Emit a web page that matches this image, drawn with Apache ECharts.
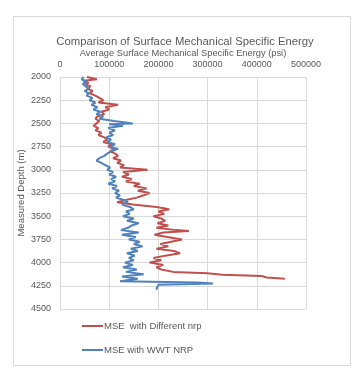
<!DOCTYPE html>
<html><head><meta charset="utf-8">
<script src="https://cdn.jsdelivr.net/npm/echarts@6/dist/echarts.min.js"></script>
<style>html,body{margin:0;padding:0;background:#fff}#c{width:362px;height:375px}</style>
</head><body><div id="c"></div>
<script>
const title = "Comparison of Surface Mechanical Specific Energy";
const xName = "Average Surface Mechanical Specific Energy (psi)";
const yName = "Measured Depth (m)";
const seriesNames = ["MSE  with Different nrp", "MSE with WWT NRP"];

const redDepth = [2000,2025,2040,2060,2080,2100,2125,2150,2175,2200,2225,2250,2275,2300,2325,2350,2375,2400,2425,2450,2475,2500,2525,2550,2575,2600,2625,2650,2675,2700,2725,2750,2775,2800,2825,2850,2875,2900,2925,2950,2975,3000,3025,3050,3075,3100,3125,3150,3175,3200,3225,3250,3275,3300,3325,3350,3375,3400,3425,3450,3475,3500,3525,3550,3575,3600,3625,3650,3660,3675,3700,3725,3750,3775,3800,3825,3850,3875,3900,3925,3950,3975,4000,4025,4050,4075,4100,4115,4130,4145,4160,4175];
const redMSE = [55000,75000,48000,58000,52000,62000,55000,66000,60000,72000,80000,88000,78000,118000,92000,100000,84000,90000,76000,72000,80000,74000,68000,78000,72000,84000,78000,90000,96000,88000,104000,98000,110000,102000,112000,118000,108000,124000,116000,130000,122000,178000,128000,140000,126000,146000,134000,162000,150000,176000,158000,182000,170000,156000,134000,116000,148000,196000,222000,200000,212000,190000,206000,214000,198000,220000,196000,236000,262000,210000,192000,218000,248000,226000,204000,220000,196000,232000,244000,214000,190000,206000,182000,210000,196000,206000,230000,300000,330000,410000,420000,457000];

const blueDepth = [2000,2025,2050,2075,2100,2125,2150,2175,2200,2225,2250,2275,2300,2325,2350,2375,2400,2425,2450,2475,2500,2510,2525,2550,2575,2600,2625,2650,2675,2700,2725,2750,2775,2800,2825,2850,2875,2900,2925,2950,2975,3000,3025,3050,3075,3100,3125,3150,3175,3200,3225,3250,3275,3300,3325,3350,3375,3400,3425,3450,3475,3500,3525,3550,3575,3600,3625,3650,3675,3700,3725,3750,3775,3800,3825,3850,3875,3900,3925,3950,3975,4000,4025,4050,4075,4100,4125,4150,4175,4200,4215,4225,4240,4260,4280,4290];
const blueMSE = [48000,44000,55000,46000,52000,60000,50000,58000,54000,66000,60000,72000,64000,76000,68000,82000,74000,88000,80000,110000,148000,100000,128000,98000,112000,100000,108000,94000,104000,96000,112000,100000,118000,104000,96000,90000,80000,74000,84000,92000,102000,96000,108000,100000,114000,104000,112000,98000,116000,106000,120000,112000,122000,114000,130000,138000,126000,142000,150000,134000,142000,128000,150000,136000,160000,146000,138000,124000,160000,126000,154000,140000,162000,150000,168000,144000,158000,136000,152000,140000,150000,132000,148000,128000,156000,134000,170000,126000,158000,122000,280000,311000,200000,198000,196000,198000];

const xMin = 0, xMax = 500000, xStep = 100000;
const yMin = 2000, yMax = 4500, yStep = 250;

const chart = echarts.init(document.getElementById('c'), null, {renderer:'canvas'});
const font = "'Liberation Sans', Arial, sans-serif";
const grey = '#595959';
chart.setOption({
  animation: false,
  backgroundColor: '#fff',
  textStyle: {fontFamily: font},
  title: {text: title, left: 185, textAlign: 'center', top: 36, padding: 0,
    textStyle: {fontSize: 11.3, fontWeight: 'normal', color: grey, fontFamily: font}},
  graphic: [{type:'rect', shape:{x:13.5,y:16.5,width:337,height:349}, style:{fill:'none', stroke:'#d9d9d9', lineWidth:1}, silent:true, z:-1}],
  grid: {left: 60, right: 56, top: 77, bottom: 66, containLabel: false},
  legend: {orient: 'vertical', left: 82, top: 321, padding: 0, itemWidth: 21, itemHeight: 2, itemGap: 14,
    icon: 'rect', textStyle: {fontSize: 9.5, color: grey, fontFamily: font, padding: [0,0,0,-4]},
    data: seriesNames},
  xAxis: {type: 'value', position: 'top', min: xMin, max: xMax, interval: xStep,
    name: xName, nameLocation: 'middle', nameGap: 19, nameMoveOverlap: false,
    nameTextStyle: {fontSize: 9.3, color: grey, fontFamily: font},
    axisLine: {show: false}, axisTick: {show: false},
    axisLabel: {fontSize: 9, color: grey, margin: 8, fontFamily: font, formatter: v => String(v)},
    splitLine: {show: true, lineStyle: {color: '#d9d9d9', width: 1}}},
  yAxis: {type: 'value', inverse: true, min: yMin, max: yMax, interval: yStep,
    name: yName, nameLocation: 'middle', nameGap: 34, nameRotate: 90, nameMoveOverlap: false,
    nameTextStyle: {fontSize: 9.5, color: grey, fontFamily: font},
    axisLine: {show: true, lineStyle: {color: '#d9d9d9'}}, axisTick: {show: false},
    axisLabel: {fontSize: 9, color: grey, margin: 9, fontFamily: font, formatter: v => String(v)},
    splitLine: {show: true, lineStyle: {color: '#d9d9d9', width: 1}}},
  series: [
    {name: seriesNames[0], type: 'line', symbol: 'none', color: '#C0504D',
     lineStyle: {width: 2, color: '#C0504D'},
     data: redDepth.map((d, i) => [redMSE[i], d])},
    {name: seriesNames[1], type: 'line', symbol: 'none', color: '#4F81BD',
     lineStyle: {width: 2, color: '#4F81BD'},
     data: blueDepth.map((d, i) => [blueMSE[i], d])}
  ]
});
</script></body></html>
